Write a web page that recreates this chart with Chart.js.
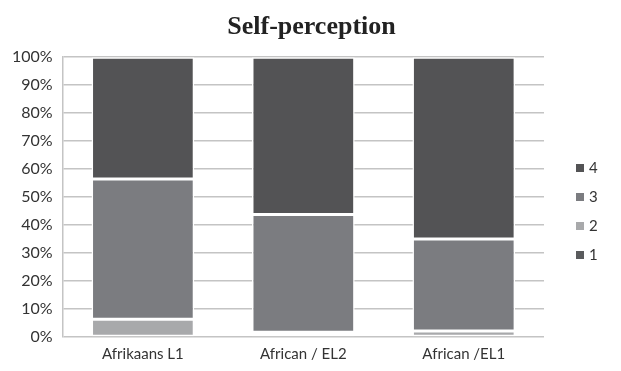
<!DOCTYPE html>
<html>
<head>
<meta charset="utf-8">
<script src="https://cdn.jsdelivr.net/npm/chart.js@4/dist/chart.umd.min.js"></script>
<style>
  html, body { margin: 0; padding: 0; background: #fff; overflow: hidden; }
  #wrap { position: relative; width: 621px; height: 371px; }
  #legend { position: absolute; left: 576px; top: 158px; font: 15px Lato; color: #333; }
  #legend div { height: 29px; line-height: 18px; white-space: nowrap; }
  #legend span { display: inline-block; width: 8px; height: 8px; margin-right: 5px; vertical-align: 1px; }
</style>
</head>
<body>
<div id="wrap"><canvas id="selfChart"></canvas><div id="legend"></div></div>
<script>
// values in percent
const categories = ['Afrikaans L1', 'African / EL2', 'African /EL1'];
const series1 = [0.3, 0.6, 0.3];
const series2 = [6.0, 1.1, 1.8];
const series3 = [50.2, 42.1, 32.9];
const series4 = [43.5, 56.2, 65.0];
const yTicks = ['0%', '10%', '20%', '30%', '40%', '50%', '60%', '70%', '80%', '90%', '100%'];

function makeSet(label, data, color) {
    return {
        label: label,
        data: data,
        backgroundColor: color,
        borderColor: '#ffffff',
        borderWidth: 1.5,
        borderSkipped: false,
        categoryPercentage: 0.64,
        barPercentage: 1.0
    };
}

// html legend, built from the chart's own legend items
const htmlLegend = {
    id: 'htmlLegend',
    afterUpdate(chart) {
        const box = document.getElementById('legend');
        box.innerHTML = '';
        const items = chart.options.plugins.legend.labels.generateLabels(chart).reverse();
        items.forEach((item) => {
            const row = document.createElement('div');
            const sq = document.createElement('span');
            sq.style.background = item.fillStyle;
            row.appendChild(sq);
            row.appendChild(document.createTextNode(item.text));
            box.appendChild(row);
        });
    }
};

function setupChart() {
    const ctx = document.getElementById('selfChart');
    return new Chart(ctx, {
        type: 'bar',
        data: {
            labels: categories,
            datasets: [
                makeSet('1', series1, '#5a5b5d'),
                makeSet('2', series2, '#a8a9ab'),
                makeSet('3', series3, '#7b7c80'),
                makeSet('4', series4, '#535355')
            ]
        },
        options: {
            responsive: true,
            maintainAspectRatio: false,
            animation: false,
            layout: {padding: {left: 2, top: 0, bottom: 0, right: 0}},
            scales: {
                x: {
                    stacked: true,
                    grid: {display: false, drawTicks: false},
                    border: {display: false},
                    ticks: {color: '#333', font: {family: 'Lato', size: 15}, padding: 8}
                },
                y: {
                    stacked: true,
                    min: 0,
                    max: 100,
                    grid: {color: '#c4c4c4', lineWidth: 1.5, drawTicks: false},
                    border: {color: '#c4c4c4', width: 1.5},
                    ticks: {
                        stepSize: 10,
                        padding: 10,
                        color: '#333',
                        font: {family: 'Lato', size: 16},
                        callback: (v) => yTicks[Math.round(v / 10)]
                    }
                },
                // empty right axis, keeps room for the legend
                side: {
                    position: 'right',
                    display: true,
                    grid: {display: false},
                    border: {display: false},
                    ticks: {display: false},
                    afterFit: (scale) => { scale.width = 77; }
                }
            },
            plugins: {
                title: {
                    display: true,
                    text: 'Self-perception',
                    color: '#222',
                    font: {family: 'Liberation Serif', size: 26, weight: 'bold'},
                    padding: {top: 12, bottom: 14}
                },
                legend: {display: false},
                tooltip: {enabled: false}
            }
        },
        plugins: [htmlLegend]
    });
}

setupChart();
</script>
</body>
</html>
